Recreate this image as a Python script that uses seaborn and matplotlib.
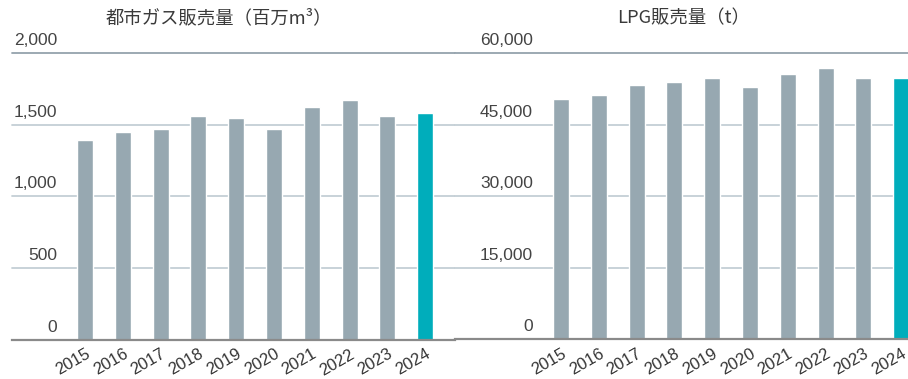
import matplotlib
matplotlib.use("Agg")
import matplotlib.pyplot as plt
import matplotlib.transforms as mtransforms
import seaborn as sns
import pandas as pd

# Annual sales figures
years = ["2015", "2016", "2017", "2018", "2019", "2020", "2021", "2022", "2023", "2024"]
city_gas = [1393, 1448, 1469, 1560, 1546, 1469, 1623, 1672, 1560, 1581]   # million m3
lpg = [50400, 51250, 53350, 53980, 54820, 52930, 55660, 56910, 54820, 54820]  # tonnes

gas_ticks = [0, 500, 1000, 1500, 2000]
lpg_ticks = [0, 15000, 30000, 45000, 60000]

gas_title = "都市ガス販売量（百万m³）"
lpg_title = "LPG販売量（t）"

GREY = "#97a8b1"
TEAL = "#00adbb"
colors = [GREY] * (len(years) - 1) + [TEAL]

sns.set_theme(style="white")
NUM_FONT = ["Liberation Sans", "Noto Sans CJK JP"]
CJK_FONT = ["Noto Sans CJK JP", "DejaVu Sans"]
plt.rcParams["font.family"] = NUM_FONT

W, H = 908, 379
fig = plt.figure(figsize=(W / 100, H / 100), dpi=100)


def px_axes(x0, x1, ytop, ybot):
    return fig.add_axes([x0 / W, (H - ybot) / H, (x1 - x0) / W, (ybot - ytop) / H])


def draw_panel(ax, values, ticks, xlim, label_x):
    df = pd.DataFrame({"year": years, "value": values})
    sns.barplot(data=df, x="year", y="value", hue="year", palette=colors,
                legend=False, width=0.423, saturation=1, ax=ax, zorder=2)
    ax.set_xlim(*xlim)
    ax.set_ylim(ticks[0], ticks[-1])
    ax.set_xlabel("")
    ax.set_ylabel("")
    ax.set_yticks([])
    for s in ("left", "right", "top"):
        ax.spines[s].set_visible(False)
    ax.spines["bottom"].set_color("#8a8a8a")
    ax.spines["bottom"].set_linewidth(1.6)
    ax.spines["bottom"].set_zorder(3)
    # horizontal guides
    for t in ticks[1:]:
        c = "#94a3ad" if t == ticks[-1] else "#c4cfd5"
        ax.axhline(t, color=c, lw=1.3, zorder=1, clip_on=False)
    # value labels sitting just above each guide
    trans = mtransforms.blended_transform_factory(ax.transAxes, ax.transData)
    off = mtransforms.ScaledTranslation(0, 5 / 100, fig.dpi_scale_trans)
    for t in ticks:
        ax.text(label_x, t, f"{t:,}", transform=trans + off, ha="right", va="bottom",
                fontsize=12.5, color="#444444")
    ax.set_xticks(range(len(years)))
    ax.set_xticklabels(years, rotation=30, ha="right", rotation_mode="anchor",
                       fontsize=12, color="#333333")
    ax.tick_params(axis="x", length=0, pad=5)


ax1 = px_axes(12, 455, 53, 339.5)
draw_panel(ax1, city_gas, gas_ticks, (-1.931, 9.788), (57 - 12) / (455 - 12))

ax2 = px_axes(455, 908, 53.3, 339.3)
draw_panel(ax2, lpg, lpg_ticks, (-2.804, 9.18), (533 - 455) / (908 - 455))

fig.text(218.5 / W, 1 - 18 / H, gas_title, ha="center", va="center",
         fontsize=13.2, color="#3a3a3a", family=CJK_FONT)
fig.text(684 / W, 1 - 18 / H, lpg_title, ha="center", va="center",
         fontsize=13.2, color="#3a3a3a", family=CJK_FONT)

fig.savefig("out.png", dpi=100)
